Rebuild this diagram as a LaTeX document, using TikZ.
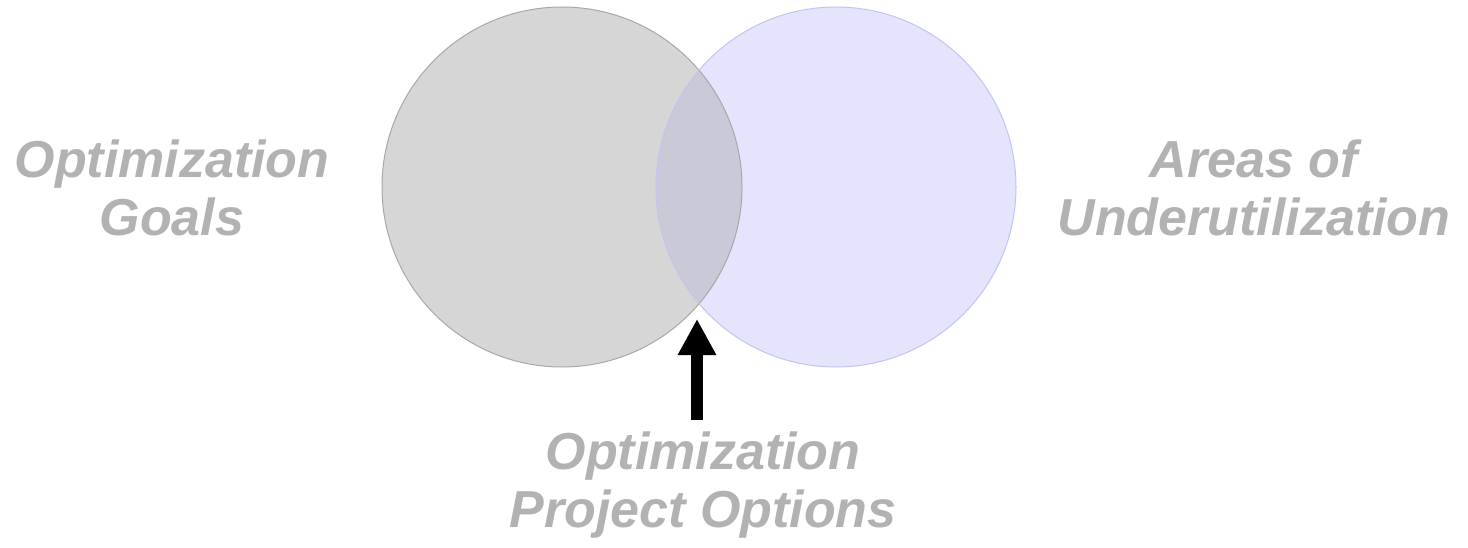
\documentclass[tikz,border=0pt]{standalone}
\usepackage{fontspec}
\setmainfont{Liberation Sans}
\usetikzlibrary{arrows.meta}
\definecolor{labelgray}{HTML}{B2B2B2}
\definecolor{leftfill}{HTML}{D6D6D6}
\definecolor{leftline}{HTML}{A8A8A8}
\definecolor{rightfill}{HTML}{E4E4FC}
\definecolor{rightline}{HTML}{C4C4F2}
\definecolor{overlapfill}{HTML}{C9C9D7}
\tikzset{
  label text/.style={inner sep=0pt, anchor=north, align=center, text=labelgray,
    font=\fontsize{52}{58}\selectfont\bfseries\itshape},
}
\begin{document}
\begin{tikzpicture}[x=1pt,y=-1pt]
\useasboundingbox (0,0) rectangle (1468,548);
\fill[white] (0,0) rectangle (1468,548);
% circles
\coordinate (lc) at (562,187);
\coordinate (rc) at (836,187);
\fill[leftfill] (lc) circle[radius=180];
\fill[rightfill] (rc) circle[radius=180];
\begin{scope}
  \clip (lc) circle[radius=180];
  \fill[overlapfill] (rc) circle[radius=180];
\end{scope}
\draw[leftline, line width=1pt] (lc) circle[radius=180];
\draw[rightline, line width=1pt] (rc) circle[radius=180];
% labels
\node[label text] (goals) at (172,140) {Optimization\\Goals};
\node[label text] (areas) at (1254,140) {Areas of\\Underutilization};
\node[label text] (options) at (703,432) {Optimization\\Project Options};
% arrow
\coordinate (arrowbase) at (697,420);
\coordinate (arrowtip) at (697,319);
\draw[line width=12pt, -{Triangle[width=36pt,length=36pt]}] (arrowbase) -- (arrowtip);
\end{tikzpicture}
\end{document}
